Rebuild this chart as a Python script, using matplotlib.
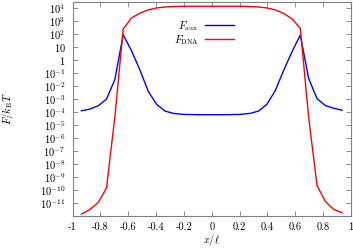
import numpy as np
import matplotlib
matplotlib.use("Agg")
import matplotlib.pyplot as plt

# ======================================
# DATA
# ======================================

x_pos = [-0.936, -0.876, -0.816, -0.756, -0.696, -0.636, -0.576, -0.516,
         -0.456, -0.396, -0.336, -0.276, -0.2, -0.1, 0.0, 0.1, 0.2, 0.276,
         0.336, 0.396, 0.456, 0.516, 0.576, 0.636, 0.696, 0.756, 0.816,
         0.876, 0.936]

# log10 of F/kBT
log_aux = [-3.9, -3.77, -3.52, -3.0, -1.5, 1.95, 0.72, -0.75,
           -2.4, -3.4, -3.92, -4.1, -4.18, -4.2, -4.2, -4.2, -4.18, -4.1,
           -3.92, -3.4, -2.35, -0.8, 0.64, 1.93, -1.41, -2.96, -3.5,
           -3.7, -3.86]

log_dna = [-11.85, -11.51, -10.97, -9.85, -4.4, 2.39, 3.25, 3.62,
           3.87, 4.02, 4.09, 4.13, 4.15, 4.15, 4.15, 4.15, 4.15, 4.13,
           4.09, 4.02, 3.87, 3.6, 3.19, 2.45, -4.4, -9.65, -10.88,
           -11.49, -11.75]

x_ticks = [-1, -0.8, -0.6, -0.4, -0.2, 0, 0.2, 0.4, 0.6, 0.8, 1]
x_labels = ["-1", "-0.8", "-0.6", "-0.4", "-0.2", "0", "0.2", "0.4", "0.6", "0.8", "1"]

y_exps = [-11, -10, -9, -8, -7, -6, -5, -4, -3, -2, -1, 0, 1, 2, 3, 4]

# ======================================
# PLOT
# ======================================

plt.rcParams["mathtext.fontset"] = "cm"
plt.rcParams["axes.unicode_minus"] = False

fig = plt.figure(figsize=(3.53, 2.5), dpi=100)
ax = fig.add_axes([0.2054, 0.136, 0.9943 - 0.2054, 0.992 - 0.136])

ax.plot(x_pos, 10.0 ** np.array(log_aux), color="#0000ff", lw=1.0,
        label=r"$F_{\mathrm{aux}}$")
ax.plot(x_pos, 10.0 ** np.array(log_dna), color="#ff0000", lw=1.0,
        label=r"$F_{\mathrm{DNA}}$")

ax.set_yscale("log")
ax.set_xlim(-1, 1)
ax.set_ylim(1.0e-12, 3.0e4)

ax.set_xticks(x_ticks)
ax.set_xticklabels(x_labels, fontfamily="cmr10", fontsize=7.5)

y_labels = []
for e in y_exps:
    if e == 0:
        y_labels.append("$1$")
    elif e == 1:
        y_labels.append("$10$")
    else:
        y_labels.append("$10^{%d}$" % e)
ax.set_yticks([10.0 ** e for e in y_exps])
ax.set_yticklabels(y_labels, fontsize=7.5)
ax.minorticks_off()

ax.tick_params(direction="in", length=3.5, width=0.6, color="#808080",
               top=True, right=True, pad=5)
for s in ax.spines.values():
    s.set_color("#808080")
    s.set_linewidth(0.8)

ax.set_xlabel(r"$x/\ell$", fontsize=7.5, va="center")
ax.xaxis.set_label_coords(0.5, -0.112)
ax.set_ylabel(r"$F/k_{\mathrm{B}}T$", fontsize=7.5, va="center")
ax.yaxis.set_label_coords(-0.232, 0.5)

ax.legend(loc="upper right", bbox_to_anchor=(234 / 353, 1 - 19 / 250),
          bbox_transform=fig.transFigure, frameon=False, markerfirst=False,
          fontsize=7.5, handlelength=2.8, handletextpad=0.6, labelspacing=0.0,
          borderpad=0, borderaxespad=0)

plt.savefig("out.png", dpi=100)
